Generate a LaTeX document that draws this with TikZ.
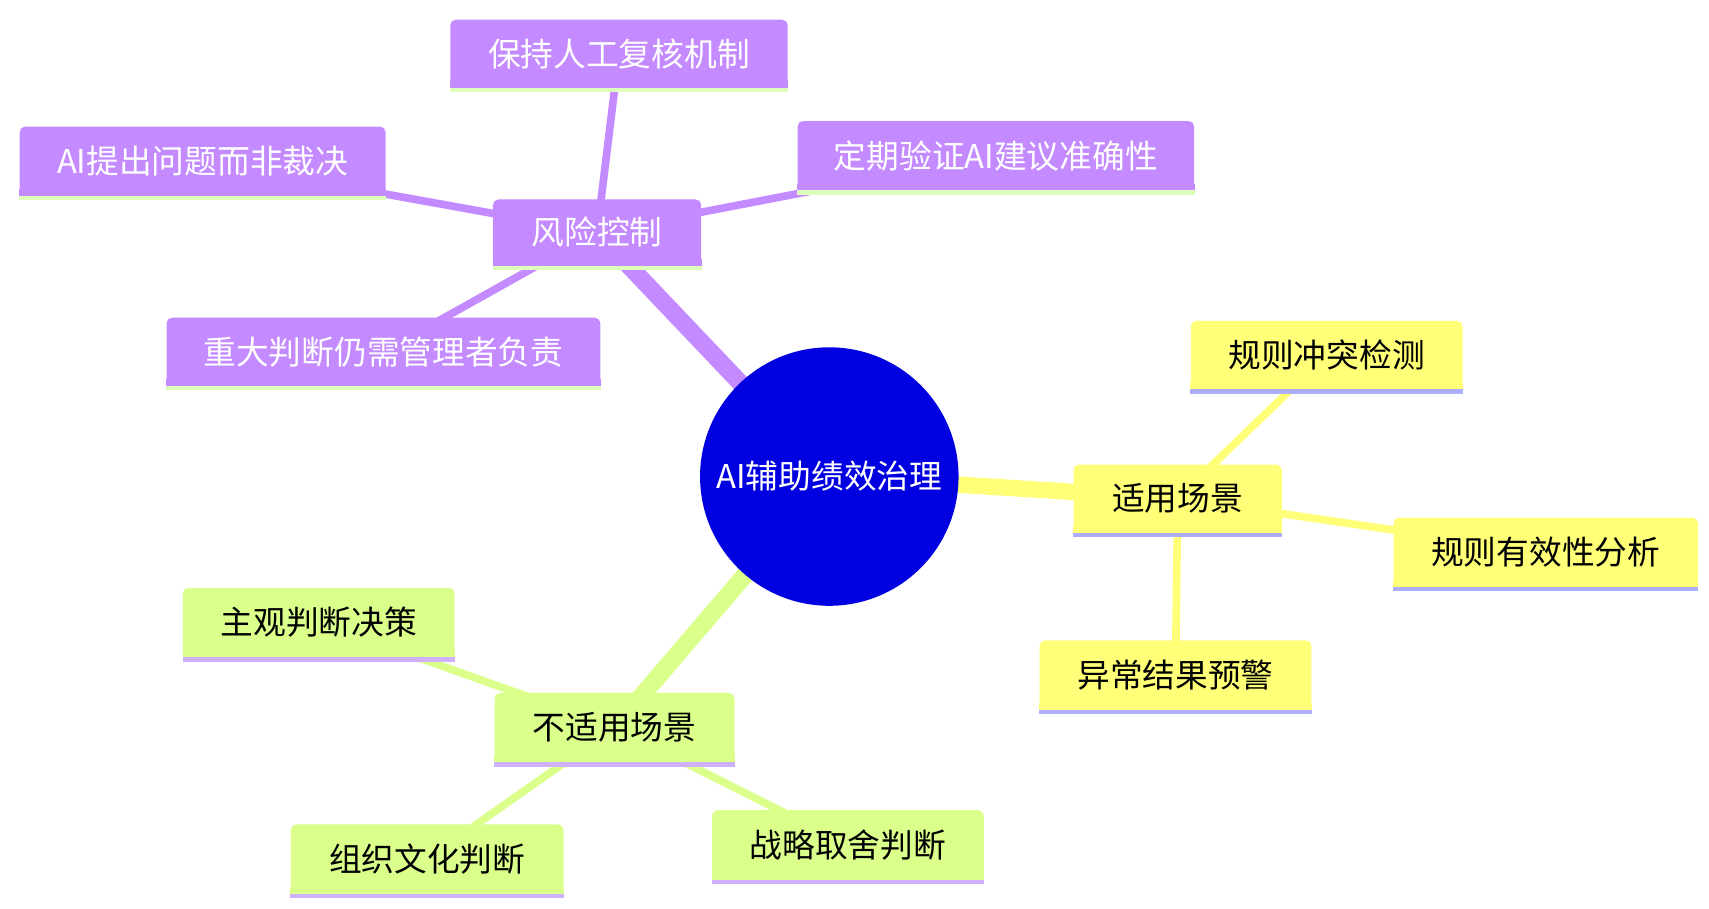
\documentclass[tikz,border=0pt]{standalone}
\usepackage{fontspec}
\setmainfont{Noto Sans CJK SC}
\definecolor{pur}{HTML}{C48AFF}
\definecolor{yel}{HTML}{FFFF78}
\definecolor{grn}{HTML}{DAFF8A}
\definecolor{ulg}{HTML}{DDFFBB}
\definecolor{uly}{HTML}{AEAEFF}
\definecolor{ulp}{HTML}{CFB0FF}
\definecolor{ctr}{HTML}{0000E0}
\newcommand{\bx}[8]{%
  \node[draw=none,fill=#6,rounded corners=0.1cm,minimum width=#4*0.02cm,minimum height=#5*0.02cm,inner sep=0pt,text=#8,font=\fontsize{17}{20}\selectfont] (#1) at (#2,#3) {#7};
  \fill[#6] ([yshift=0.12cm]#1.south west) rectangle (#1.south east);
  \draw[line width=0.08cm,draw=ul#6] ([yshift=-0.04cm]#1.south west) -- ([yshift=-0.04cm]#1.south east);}
\colorlet{ulpur}{ulg}\colorlet{ulyel}{uly}\colorlet{ulgrn}{ulp}
\begin{document}
\begin{tikzpicture}[x=0.02cm,y=-0.02cm]
\useasboundingbox (0,0) rectangle (1560,829);
\coordinate (C) at (757,435);
% edges
\draw[pur,line width=0.32cm] (C) -- (545,212);
\draw[yel,line width=0.3cm] (C) -- (1075,455);
\draw[grn,line width=0.32cm] (C) -- (561,664);
\draw[pur,line width=0.14cm] (545,212) -- (565,49);
\draw[pur,line width=0.14cm] (545,212) -- (185,147);
\draw[pur,line width=0.14cm] (545,212) -- (909,142);
\draw[pur,line width=0.14cm] (545,212) -- (350,321);
\draw[yel,line width=0.14cm] (1075,455) -- (1211,324);
\draw[yel,line width=0.14cm] (1075,455) -- (1411,504);
\draw[yel,line width=0.14cm] (1075,455) -- (1073,616);
\draw[grn,line width=0.14cm] (561,664) -- (291,568);
\draw[grn,line width=0.14cm] (561,664) -- (390,784);
\draw[grn,line width=0.14cm] (561,664) -- (774,771);
\node[circle,fill=ctr,minimum size=4.72cm,text=white,font=\fontsize{17}{20}\selectfont] (c) at (C) {AI辅助绩效治理};
\bx{r}{545}{212}{190}{60}{pur}{风险控制}{white}
\bx{r1}{565}{49}{308}{62}{pur}{保持人工复核机制}{white}
\bx{r2}{185}{147}{334}{63}{pur}{AI提出问题而非裁决}{white}
\bx{r3}{909}{142}{362}{63}{pur}{定期验证AI建议准确性}{white}
\bx{r4}{350}{321}{396}{62}{pur}{重大判断仍需管理者负责}{white}
\bx{s}{1075}{455}{190}{62}{yel}{适用场景}{black}
\bx{s1}{1211}{324}{248}{62}{yel}{规则冲突检测}{black}
\bx{s2}{1411}{504}{278}{63}{yel}{规则有效性分析}{black}
\bx{s3}{1073}{616}{248}{63}{yel}{异常结果预警}{black}
\bx{n}{561}{664}{219}{63}{grn}{不适用场景}{black}
\bx{n1}{291}{568}{248}{63}{grn}{主观判断决策}{black}
\bx{n2}{390}{784}{249}{63}{grn}{组织文化判断}{black}
\bx{n3}{774}{771}{248}{63}{grn}{战略取舍判断}{black}
\end{tikzpicture}
\end{document}
